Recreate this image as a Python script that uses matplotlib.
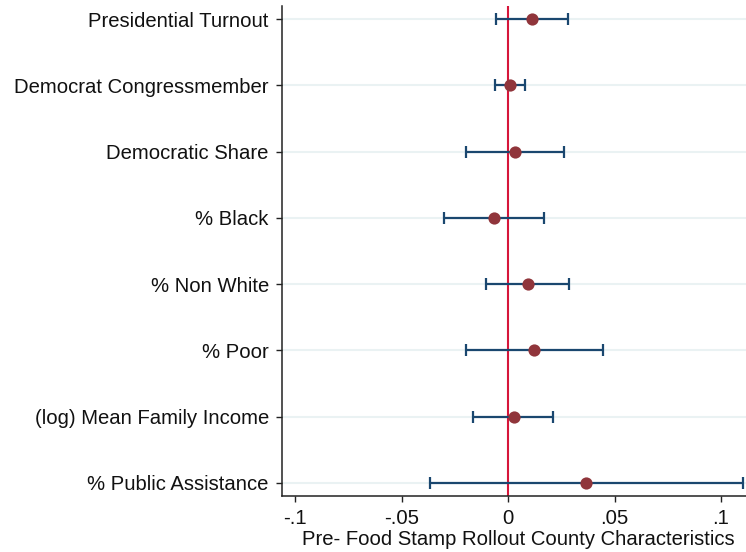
import matplotlib
matplotlib.use("Agg")
import matplotlib.pyplot as plt
import numpy as np

# Covariates (top to bottom) with point estimates and 95% confidence bounds
labels = [
    "Presidential Turnout",
    "Democrat Congressmember",
    "Democratic Share",
    "% Black",
    "% Non White",
    "% Poor",
    "(log) Mean Family Income",
    "% Public Assistance",
]
coef = [0.0114, 0.0008, 0.0031, -0.0064, 0.0092, 0.0124, 0.0027, 0.0368]
ci_low = [-0.0055, -0.0063, -0.0197, -0.0299, -0.0102, -0.0199, -0.0164, -0.0368]
ci_high = [0.0282, 0.0081, 0.0261, 0.0168, 0.0286, 0.0446, 0.0213, 0.1105]

xticks = [-0.1, -0.05, 0, 0.05, 0.1]
xticklabels = ["-.1", "-.05", "0", ".05", ".1"]

plt.rcParams["font.family"] = ["Liberation Sans", "DejaVu Sans"]

W, H = 746, 552
fig = plt.figure(figsize=(W / 100, H / 100), dpi=100)
left_px, right_px, top_px, bottom_px = 282, 755, 6, 496
ax = fig.add_axes([left_px / W, (H - bottom_px) / H,
                   (right_px - left_px) / W, (bottom_px - top_px) / H])

n = len(labels)
ypos = np.arange(n, 0, -1)
coef_a = np.array(coef)
err = np.vstack([coef_a - np.array(ci_low), np.array(ci_high) - coef_a])

for y in ypos:
    ax.axhline(y, color="#eaf2f3", lw=1.5, zorder=0)

ax.axvline(0, color="#d6163a", lw=1.5, zorder=1)

ax.errorbar(coef_a, ypos, xerr=err, fmt="none", ecolor="#1a476f",
            elinewidth=1.6, capsize=4, capthick=1.6, zorder=2)
ax.plot(coef_a, ypos, "o", color="#90353b", markersize=8.8,
        markeredgewidth=0, zorder=3)

ax.set_ylim(0.8, n + 0.2)
ax.set_xlim((left_px - 508) / 2130, (right_px - 508) / 2130)

fs = 14.6
ax.set_yticks(ypos)
ax.set_yticklabels(labels, fontsize=fs, color="#111111")
ax.set_xticks(xticks)
ax.set_xticklabels(xticklabels, fontsize=fs, color="#111111")
ax.set_xlabel("Pre- Food Stamp Rollout County Characteristics",
              fontsize=fs, color="#111111", labelpad=1)

for side in ["top", "right"]:
    ax.spines[side].set_visible(False)
for side in ["left", "bottom"]:
    ax.spines[side].set_color("#222222")
    ax.spines[side].set_linewidth(1.1)

ax.tick_params(axis="both", length=4.5, width=1.0, color="#222222")
ax.tick_params(axis="y", pad=5)
ax.tick_params(axis="x", pad=5)

fig.savefig("out.png", dpi=100)
